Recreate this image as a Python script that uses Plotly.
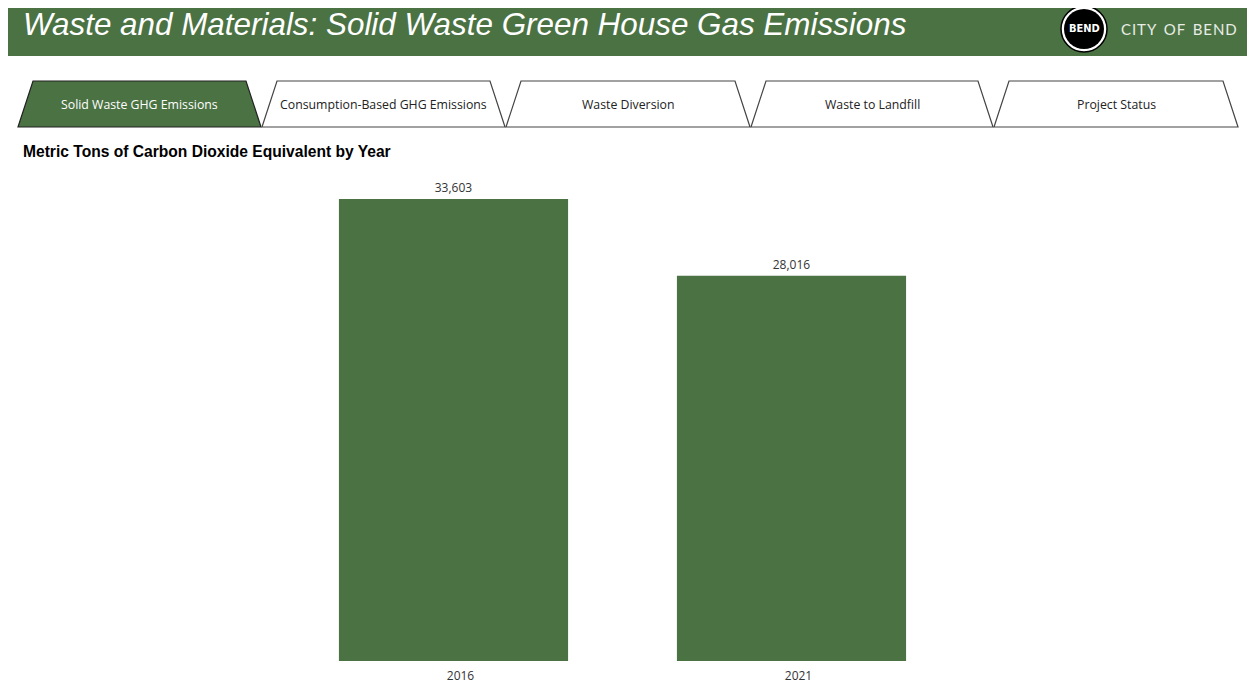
import plotly.graph_objects as go

# page body has an 8px margin; the figure is sized/placed accordingly
OFF = 8
W, H = 1255 - OFF, 685 - OFF

years = ["2016", "2021"]
emissions = [33603, 28016]
tab_labels = ["Solid Waste GHG Emissions", "Consumption-Based GHG Emissions",
              "Waste Diversion", "Waste to Landfill", "Project Status"]
title_text = "Waste and Materials: Solid Waste Green House Gas Emissions"
subtitle_text = "Metric Tons of Carbon Dioxide Equivalent by Year"
brand_text = "CITY OF BEND"

GREEN = "#4B7243"


def px(x):
    return (x - OFF) / W


def py(y):
    return 1 - (y - OFF) / H


fig = go.Figure()
fig.add_trace(go.Bar(
    x=years, y=emissions,
    marker=dict(color=GREEN, line=dict(width=0)),
    text=[f"{v:,}" for v in emissions],
    textposition="outside",
    textfont=dict(family="Open Sans", size=12, color="#333333"),
    cliponaxis=False,
    hoverinfo="skip",
))

shapes = []
annotations = []

# header band
shapes.append(dict(type="rect", xref="paper", yref="paper",
                   x0=px(6), x1=px(1253), y0=py(56), y1=py(6),
                   fillcolor=GREEN, line=dict(width=0), layer="below"))
annotations.append(dict(xref="paper", yref="paper", x=px(21), y=py(25),
                        xanchor="left", yanchor="middle", showarrow=False,
                        text=f"<i>{title_text}</i>",
                        font=dict(family="Liberation Sans", size=31.4, color="white")))

# logo
cx, cy = 1084, 29
for r, fill, lc, lw in [(23, "white", "black", 1.5), (20, "black", "white", 0)]:
    shapes.append(dict(type="circle", xref="paper", yref="paper",
                       x0=px(cx - r), x1=px(cx + r), y0=py(cy + r), y1=py(cy - r),
                       fillcolor=fill, line=dict(color=lc, width=lw)))
annotations.append(dict(xref="paper", yref="paper", x=px(cx), y=py(cy),
                        xanchor="center", yanchor="middle", showarrow=False,
                        text="<b>BEND</b>",
                        font=dict(family="DejaVu Sans Condensed", size=11, color="white")))
annotations.append(dict(xref="paper", yref="paper", x=px(1119), y=py(29),
                        xanchor="left", yanchor="middle", showarrow=False,
                        text="\u200a".join(brand_text).replace("\u200a \u200a", "\u2002"),
                        font=dict(family="Lato", size=15, color="#E8EDE6")))

# tabs
tabs_bottom = [(18, 261), (262, 505), (506, 750), (751, 993), (994, 1238)]
inset = 15
ty0, ty1 = 81, 127
for i, ((bl, br), lab) in enumerate(zip(tabs_bottom, tab_labels)):
    tl, tr = bl + inset, br - inset
    path = (f"M {px(bl)} {py(ty1)} L {px(tl)} {py(ty0)} "
            f"L {px(tr)} {py(ty0)} L {px(br)} {py(ty1)} Z")
    active = i == 0
    shapes.append(dict(type="path", xref="paper", yref="paper", path=path,
                       fillcolor=GREEN if active else "white",
                       line=dict(color="#222222" if active else "#444444", width=1.2)))
    annotations.append(dict(xref="paper", yref="paper", x=px((bl + br) / 2), y=py(104),
                            xanchor="center", yanchor="middle", showarrow=False,
                            text=lab,
                            font=dict(family="Open Sans", size=12.3,
                                      color="white" if active else "#222222")))

annotations.append(dict(xref="paper", yref="paper", x=px(21), y=py(151),
                        xanchor="left", yanchor="middle", showarrow=False,
                        text=f"<b>{subtitle_text}</b>",
                        font=dict(family="Liberation Sans", size=15.6, color="black")))

fig.update_layout(
    width=W, height=H,
    margin=dict(l=0, r=0, t=0, b=0),
    paper_bgcolor="white", plot_bgcolor="white",
    showlegend=False,
    bargap=0.322,
    shapes=shapes, annotations=annotations,
    xaxis=dict(domain=[px(284.5), px(960.5)], showgrid=False, zeroline=False,
               showline=False, ticks="", type="category", ticklabelstandoff=6,
               ticklabelshift=7,
               tickfont=dict(family="Open Sans", size=12, color="#333333")),
    yaxis=dict(domain=[py(661), py(166)], range=[0, 36000], visible=False,
               showgrid=False, zeroline=False),
)

fig.write_html("out.html")
